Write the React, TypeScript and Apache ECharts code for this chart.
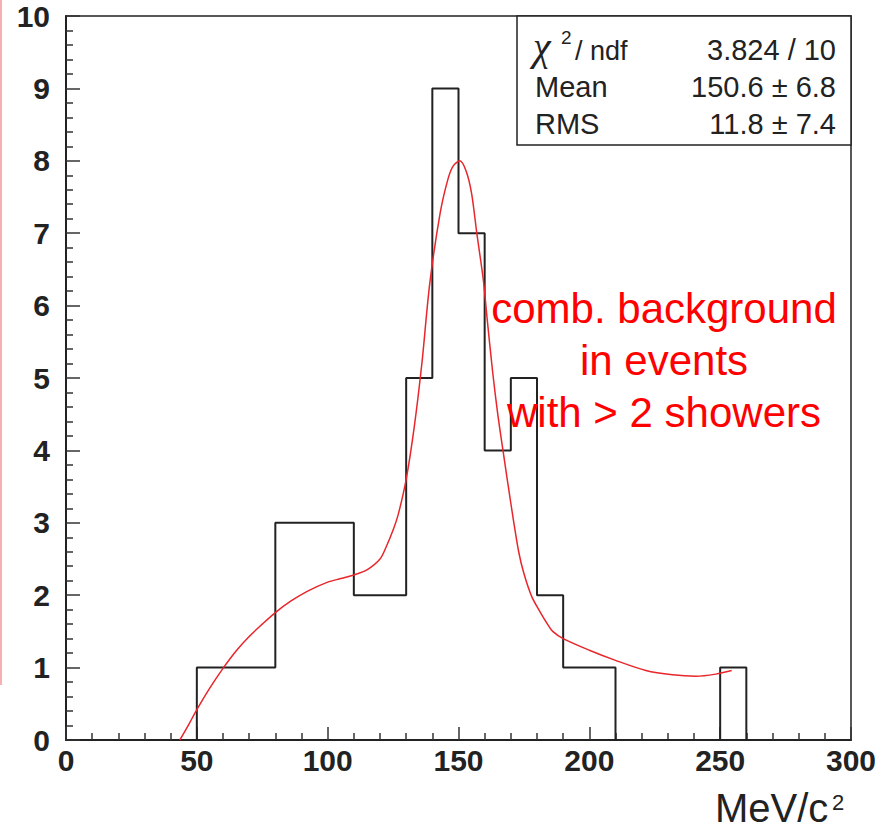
import React, { useEffect, useRef } from "react";
import * as echarts from "echarts";

// Histogram: low edges of 10 MeV bins and their counts
const binLowEdges = [50, 60, 70, 80, 90, 100, 110, 120, 130, 140, 150, 160, 170, 180, 190, 200, 210, 220, 230, 240, 250];
const binCounts = [1, 1, 1, 3, 3, 3, 2, 2, 5, 9, 7, 4, 5, 2, 1, 1, 0, 0, 0, 0, 1];
const binWidth = 10;

// Fit curve
const fitX = [43.5, 47, 50, 55, 60, 65, 70, 75, 80, 86, 92, 100, 105, 110, 115, 120, 122.5, 125, 127, 130, 133, 136, 139, 143, 146, 148, 150.5, 153, 155, 157, 159.5, 161, 163, 165, 167, 170, 173, 175, 178, 181, 184, 186, 190, 200, 210, 221.6, 231.8, 240.7, 248.3, 254.4];
const fitY = [0, 0.22, 0.42, 0.72, 0.99, 1.23, 1.43, 1.6, 1.76, 1.92, 2.05, 2.18, 2.23, 2.28, 2.35, 2.5, 2.68, 2.9, 3.12, 3.6, 4.3, 5.2, 6.3, 7.28, 7.75, 7.93, 8.0, 7.85, 7.55, 7.0, 6.35, 5.8, 5.1, 4.5, 4.0, 3.27, 2.6, 2.3, 1.98, 1.78, 1.6, 1.5, 1.4, 1.24, 1.1, 0.96, 0.9, 0.88, 0.91, 0.96];

const statLabels = ["Mean", "RMS"];
const statValues = ["3.824 / 10", "150.6 ± 6.8", "11.8 ± 7.4"];
const noteLines = ["comb. background", "in events", "with > 2 showers"];

const FONT = "'Liberation Sans', Arial, Helvetica, sans-serif";

export default function App() {
  const ref = useRef<HTMLDivElement>(null);
  useEffect(() => {
    if (!ref.current) return;
    const chart = echarts.init(ref.current, null, { renderer: "svg" });

    const histPts: number[][] = [[binLowEdges[0], 0]];
    binLowEdges.forEach((x0, i) => {
      histPts.push([x0, binCounts[i]]);
      histPts.push([x0 + binWidth, binCounts[i]]);
    });
    histPts.push([binLowEdges[binLowEdges.length - 1] + binWidth, 0]);

    const fitPts = fitX.map((x, i) => [x, fitY[i]]);

    const graphics: any[] = [
      { type: "rect", shape: { x: 0, y: 0, width: 2, height: 685 }, style: { fill: "#f6b0b4" }, z: 1 },
      { type: "rect", shape: { x: 517, y: 16, width: 334, height: 129 }, style: { fill: "#fff", stroke: "#222", lineWidth: 1.5 }, z: 10 },
      { type: "text", x: 533, y: 46, style: { text: "χ", font: `italic 40px 'Liberation Serif', serif`, fill: "#222", verticalAlign: "middle", align: "left" }, z: 11 },
      { type: "text", x: 561, y: 37, style: { text: "2", font: `19px ${FONT}`, fill: "#222", verticalAlign: "middle", align: "left" }, z: 11 },
      { type: "text", x: 575, y: 50.5, style: { text: "/ ndf", font: `27px ${FONT}`, fill: "#222", verticalAlign: "middle", align: "left" }, z: 11 },
    ];
    statLabels.forEach((t, i) => {
      graphics.push({ type: "text", x: 535, y: 86.8 + i * 37, style: { text: t, font: `29px ${FONT}`, fill: "#222", verticalAlign: "middle", align: "left" }, z: 11 });
    });
    statValues.forEach((t, i) => {
      graphics.push({ type: "text", x: 836, y: 49.8 + i * 37, style: { text: t, font: `29px ${FONT}`, fill: "#222", verticalAlign: "middle", align: "right" }, z: 11 });
    });
    noteLines.forEach((t, i) => {
      graphics.push({ type: "text", x: 664, y: 308.3 + i * 52, style: { text: t, font: `42px ${FONT}`, fill: "#ff0000", verticalAlign: "middle", align: "center" }, z: 11 });
    });
    graphics.push({ type: "text", x: 715, y: 807.5, style: { text: "MeV/c", font: `40px ${FONT}`, fill: "#222", verticalAlign: "middle", align: "left" }, z: 11 });
    graphics.push({ type: "text", x: 832, y: 802, style: { text: "2", font: `22px ${FONT}`, fill: "#222", verticalAlign: "middle", align: "left" }, z: 11 });

    chart.setOption({
      animation: false,
      backgroundColor: "#fff",
      grid: { left: 66, right: 43, top: 16, bottom: 88, show: true, borderColor: "#222", borderWidth: 1.5, backgroundColor: "transparent" },
      xAxis: {
        type: "value",
        min: 0,
        max: 300,
        interval: 50,
        axisLine: { show: true, lineStyle: { color: "#222", width: 2 } },
        axisTick: { show: true, inside: true, length: 13, lineStyle: { color: "#333", width: 1.5 } },
        minorTick: { show: true, splitNumber: 5, length: 7, lineStyle: { color: "#333", width: 1.5 } },
        splitLine: { show: false },
        axisLabel: { margin: 5, fontSize: 30, fontWeight: "bold", color: "#222", fontFamily: FONT },
      },
      yAxis: {
        type: "value",
        min: 0,
        max: 10,
        interval: 1,
        axisLine: { show: true, lineStyle: { color: "#222", width: 2 } },
        axisTick: { show: true, inside: true, length: 14, lineStyle: { color: "#333", width: 1.5 } },
        minorTick: { show: true, splitNumber: 5, length: 7, lineStyle: { color: "#333", width: 1.5 } },
        splitLine: { show: false },
        axisLabel: { margin: 16, fontSize: 30, fontWeight: "bold", color: "#222", fontFamily: FONT },
      },
      graphic: graphics,
      series: [
        {
          type: "line",
          data: histPts,
          symbol: "none",
          lineStyle: { color: "#222", width: 2 },
          z: 3,
        },
        {
          type: "line",
          data: fitPts,
          symbol: "none",
          smooth: 0.3,
          lineStyle: { color: "#e8262b", width: 1.5 },
          z: 4,
        },
      ],
    });
    return () => chart.dispose();
  }, []);
  return <div ref={ref} style={{ position: "fixed", left: 0, top: 0, width: 894, height: 828 }} />;
}
